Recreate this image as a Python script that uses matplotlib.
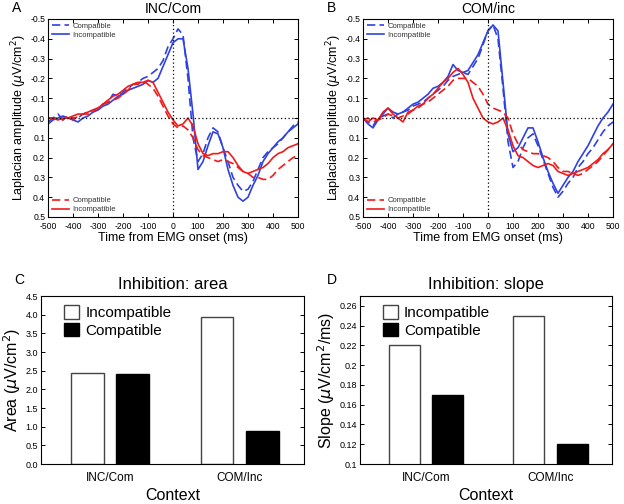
import numpy as np
import matplotlib
matplotlib.use("Agg")
import matplotlib.pyplot as plt
from matplotlib.ticker import MultipleLocator, FuncFormatter

plt.rcParams['font.family'] = ['Liberation Sans', 'DejaVu Sans']
plt.rcParams['mathtext.fontset'] = 'dejavusans'

time_ms = list(range(-500, 501, 20))

# Panel A: INC/Com
a_blue_compatible = [0.02, 0.0, -0.02, 0.01, 0.0, 0.0, 0.0, -0.02, -0.03, -0.04, -0.05, -0.07, -0.08, -0.12, -0.11,
                     -0.13, -0.15, -0.17, -0.18, -0.20, -0.21, -0.23, -0.25, -0.29, -0.36, -0.40, -0.45, -0.42, -0.20,
                     0.10, 0.22, 0.18, 0.10, 0.05, 0.07, 0.15, 0.22, 0.30, 0.34, 0.37, 0.36, 0.32, 0.26, 0.20, 0.17,
                     0.15, 0.13, 0.10, 0.07, 0.04, 0.02]
a_blue_incompatible = [0.03, 0.01, 0.0, -0.01, 0.0, 0.01, 0.02, 0.0, -0.01, -0.03, -0.04, -0.06, -0.07, -0.09, -0.11,
                       -0.12, -0.14, -0.15, -0.16, -0.17, -0.19, -0.18, -0.20, -0.26, -0.32, -0.38, -0.40, -0.40, -0.25,
                       -0.02, 0.26, 0.22, 0.14, 0.07, 0.08, 0.15, 0.26, 0.34, 0.40, 0.42, 0.40, 0.34, 0.29, 0.22, 0.18,
                       0.15, 0.12, 0.10, 0.07, 0.05, 0.03]
a_red_compatible = [0.0, 0.0, 0.0, 0.01, -0.01, 0.01, -0.01, -0.02, -0.02, -0.03, -0.05, -0.07, -0.08, -0.09, -0.10,
                    -0.12, -0.14, -0.17, -0.17, -0.19, -0.17, -0.15, -0.11, -0.06, -0.01, 0.03, 0.05, 0.04, 0.06,
                    0.10, 0.16, 0.19, 0.20, 0.21, 0.22, 0.21, 0.22, 0.23, 0.25, 0.27, 0.28, 0.30, 0.30, 0.31, 0.31,
                    0.29, 0.26, 0.24, 0.22, 0.20, 0.19]
a_red_incompatible = [0.0, 0.0, 0.01, 0.0, 0.0, -0.01, -0.02, -0.02, -0.03, -0.04, -0.05, -0.07, -0.09, -0.11, -0.12,
                      -0.14, -0.16, -0.17, -0.18, -0.18, -0.19, -0.18, -0.13, -0.08, -0.03, 0.01, 0.04, 0.03, 0.0,
                      0.04, 0.13, 0.18, 0.19, 0.18, 0.18, 0.17, 0.17, 0.20, 0.24, 0.27, 0.28, 0.27, 0.26, 0.25, 0.23,
                      0.20, 0.18, 0.17, 0.15, 0.14, 0.13]

# Panel B: COM/inc
b_blue_compatible = [0.0, 0.02, 0.04, 0.0, -0.01, -0.02, 0.0, -0.02, -0.03, -0.04, -0.06, -0.07, -0.08, -0.10, -0.12,
                     -0.14, -0.16, -0.19, -0.21, -0.22, -0.23, -0.22, -0.26, -0.30, -0.37, -0.44, -0.47, -0.40, -0.15,
                     0.12, 0.25, 0.22, 0.15, 0.10, 0.08, 0.14, 0.21, 0.28, 0.35, 0.40, 0.37, 0.33, 0.30, 0.25, 0.22,
                     0.18, 0.15, 0.11, 0.07, 0.04, 0.02]
b_blue_incompatible = [0.0, 0.03, 0.05, 0.01, -0.02, -0.05, -0.03, -0.02, -0.03, -0.05, -0.07, -0.08, -0.10, -0.12, -0.15,
                       -0.16, -0.18, -0.21, -0.27, -0.24, -0.23, -0.24, -0.28, -0.32, -0.38, -0.44, -0.47, -0.44, -0.18,
                       0.08, 0.17, 0.15, 0.10, 0.05, 0.05, 0.12, 0.20, 0.27, 0.33, 0.38, 0.34, 0.30, 0.27, 0.22, 0.18,
                       0.14, 0.09, 0.04, 0.0, -0.03, -0.07]
b_red_compatible = [0.01, 0.0, 0.02, 0.01, 0.0, -0.02, -0.01, 0.0, -0.01, -0.02, -0.04, -0.05, -0.07, -0.08, -0.10,
                    -0.12, -0.14, -0.16, -0.19, -0.20, -0.20, -0.20, -0.18, -0.16, -0.12, -0.07, -0.05, -0.04, -0.03,
                    0.0, 0.08, 0.13, 0.16, 0.17, 0.18, 0.18, 0.19, 0.20, 0.22, 0.25, 0.27, 0.27, 0.28, 0.29, 0.28,
                    0.26, 0.24, 0.22, 0.19, 0.16, 0.13]
b_red_incompatible = [0.0, 0.02, 0.0, 0.01, -0.03, -0.05, -0.02, 0.0, 0.02, -0.03, -0.04, -0.06, -0.07, -0.10, -0.12,
                      -0.15, -0.18, -0.20, -0.23, -0.25, -0.22, -0.18, -0.10, -0.05, 0.0, 0.02, 0.03, 0.02, 0.0,
                      0.06, 0.14, 0.19, 0.20, 0.22, 0.24, 0.25, 0.24, 0.23, 0.24, 0.27, 0.28, 0.29, 0.28, 0.27, 0.26,
                      0.25, 0.23, 0.21, 0.18, 0.16, 0.13]

# Bar data
contexts = ["INC/Com", "COM/Inc"]
area_incompatible = [2.45, 3.95]
area_compatible = [2.40, 0.88]
slope_incompatible = [0.22, 0.25]
slope_compatible = [0.17, 0.12]

BLUE = '#2f42e0'
RED = '#f01a1a'

W, H = 624, 504
fig = plt.figure(figsize=(W / 100, H / 100), dpi=100)


def px_axes(left, top, right, bottom):
    return fig.add_axes([left / W, 1 - bottom / H, (right - left) / W, (bottom - top) / H])


def wave_panel(ax, bc, bi, rc, ri, title, letter, lx):
    ax.plot(time_ms, bc, color=BLUE, lw=1.2, ls=(0, (5, 2.5)), label='Compatible')
    ax.plot(time_ms, bi, color=BLUE, lw=1.2, label='Incompatible')
    ax.plot(time_ms, rc, color=RED, lw=1.2, ls=(0, (5, 2.5)), label='Compatible')
    ax.plot(time_ms, ri, color=RED, lw=1.2, label='Incompatible')
    ax.axhline(0, color='black', lw=0.9, ls=(0, (1, 2)))
    ax.axvline(0, color='black', lw=0.9, ls=(0, (1, 2)))
    ax.set_xlim(-500, 500)
    ax.set_ylim(0.5, -0.5)
    ax.xaxis.set_major_locator(MultipleLocator(100))
    ax.yaxis.set_major_locator(MultipleLocator(0.1))
    ax.yaxis.set_major_formatter(FuncFormatter(lambda v, p: f"{v:.1f}" if abs(v) > 1e-9 else "0.0"))
    ax.xaxis.set_major_formatter(FuncFormatter(lambda v, p: f"{int(round(v))}"))
    ax.tick_params(direction='in', top=True, right=True, labelsize=6.2, length=3, width=0.7)
    ax.tick_params(axis='x', pad=3.5)
    ax.tick_params(axis='y', pad=2)
    for s in ax.spines.values():
        s.set_linewidth(0.8)
    ax.set_xlabel('Time from EMG onset (ms)', fontsize=9, labelpad=1)
    ax.set_ylabel(r'Laplacian amplitude ($\mu$V/cm$^2$)', fontsize=9, labelpad=1)
    ax.set_title(title, fontsize=10, pad=4)
    h, l = ax.get_legend_handles_labels()
    leg1 = ax.legend(h[:2], l[:2], loc='upper left', fontsize=5.5, frameon=False,
                     handlelength=2.2, borderaxespad=0.1, labelspacing=0.2, handletextpad=0.5,
                     labelcolor='#333333')
    ax.add_artist(leg1)
    ax.legend(h[2:], l[2:], loc='lower left', fontsize=5.5, frameon=False,
              handlelength=2.2, borderaxespad=0.1, labelspacing=0.2, handletextpad=0.5,
              labelcolor='#333333')
    fig.text(lx / W, 1 - 8 / H, letter, fontsize=10, va='center', ha='center')


axA = px_axes(48, 19, 298, 217)
wave_panel(axA, a_blue_compatible, a_blue_incompatible, a_red_compatible, a_red_incompatible, 'INC/Com', 'A', 17)
axB = px_axes(363, 19, 613, 217)
wave_panel(axB, b_blue_compatible, b_blue_incompatible, b_red_compatible, b_red_incompatible, 'COM/inc', 'B', 332)


def bar_panel(ax, inc, com, title, ylabel, ylim, step, fmt, letter, lx):
    x = np.arange(len(contexts))
    off, w = 0.174, 0.25
    ax.bar(x - off, inc, w, color='white', edgecolor='#444444', lw=1.0, label='Incompatible')
    ax.bar(x + off, com, w, color='black', edgecolor='black', lw=1.0, label='Compatible')
    ax.set_xlim(-0.533, 1.495)
    ax.set_ylim(*ylim)
    ax.yaxis.set_major_locator(MultipleLocator(step))
    ax.yaxis.set_major_formatter(FuncFormatter(fmt))
    ax.set_xticks(x)
    ax.set_xticklabels(contexts)
    ax.tick_params(axis='y', direction='in', right=True, labelsize=6.5, length=3, width=0.7, pad=2)
    ax.tick_params(axis='x', length=0, labelsize=8.5, pad=6)
    for s in ax.spines.values():
        s.set_linewidth(0.8)
    ax.set_xlabel('Context', fontsize=11.5, labelpad=3)
    ax.set_ylabel(ylabel, fontsize=11.5, labelpad=2)
    ax.set_title(title, fontsize=12, pad=5)
    ax.legend(loc='upper left', bbox_to_anchor=(14 / 263, 1.0), fontsize=11, frameon=False,
              handlelength=1.0, handleheight=1.0,
              borderaxespad=0.2, labelspacing=0.15, handletextpad=0.4)
    fig.text(lx / W, 1 - 280 / H, letter, fontsize=10, va='center', ha='center')


axC = px_axes(41, 296, 304, 464)
bar_panel(axC, area_incompatible, area_compatible, 'Inhibition: area', r'Area ($\mu$V/cm$^2$)',
          (0, 4.5), 0.5, lambda v, p: f"{v:.1f}", 'C', 19)
axD = px_axes(360, 296, 612, 464)
bar_panel(axD, slope_incompatible, slope_compatible, 'Inhibition: slope', r'Slope ($\mu$V/cm$^2$/ms)',
          (0.1, 0.27), 0.02, lambda v, p: f"{round(v, 2):g}", 'D', 332)

fig.savefig('out.png', dpi=100)
